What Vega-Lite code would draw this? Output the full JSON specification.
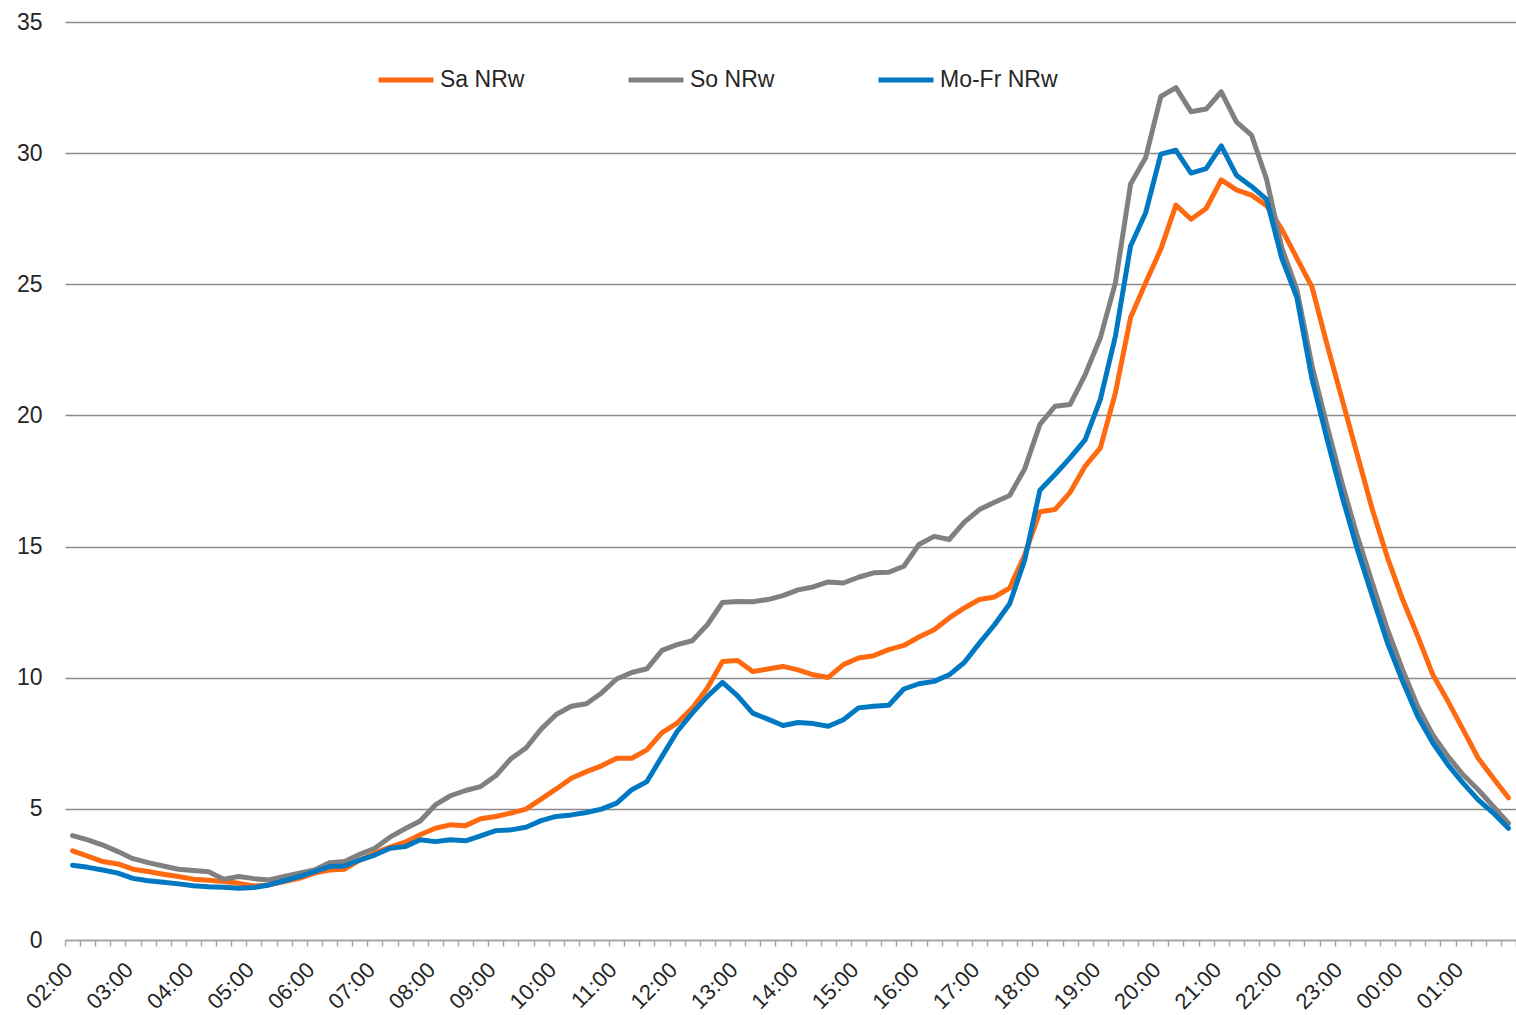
{
  "$schema": "https://vega.github.io/schema/vega-lite/v6.json",
  "width": 1451,
  "height": 918,
  "autosize": {"type": "none"},
  "padding": {"left": 65, "top": 22, "right": 0, "bottom": 75},
  "background": "white",
  "config": {
    "view": {"stroke": null},
    "font": "Liberation Sans, Arial, sans-serif"
  },
  "data": {"values": [
    {"t":"02:00","Sa NRw":3.40,"So NRw":3.98,"Mo-Fr NRw":2.85},
    {"t":"02:15","Sa NRw":3.20,"So NRw":3.82,"Mo-Fr NRw":2.77},
    {"t":"02:30","Sa NRw":2.99,"So NRw":3.62,"Mo-Fr NRw":2.67},
    {"t":"02:45","Sa NRw":2.90,"So NRw":3.37,"Mo-Fr NRw":2.55},
    {"t":"03:00","Sa NRw":2.70,"So NRw":3.10,"Mo-Fr NRw":2.35},
    {"t":"03:15","Sa NRw":2.61,"So NRw":2.95,"Mo-Fr NRw":2.26},
    {"t":"03:30","Sa NRw":2.51,"So NRw":2.82,"Mo-Fr NRw":2.20},
    {"t":"03:45","Sa NRw":2.42,"So NRw":2.70,"Mo-Fr NRw":2.14},
    {"t":"04:00","Sa NRw":2.32,"So NRw":2.65,"Mo-Fr NRw":2.07},
    {"t":"04:15","Sa NRw":2.28,"So NRw":2.60,"Mo-Fr NRw":2.03},
    {"t":"04:30","Sa NRw":2.23,"So NRw":2.32,"Mo-Fr NRw":2.01},
    {"t":"04:45","Sa NRw":2.16,"So NRw":2.42,"Mo-Fr NRw":1.97},
    {"t":"05:00","Sa NRw":2.06,"So NRw":2.34,"Mo-Fr NRw":2.00},
    {"t":"05:15","Sa NRw":2.10,"So NRw":2.29,"Mo-Fr NRw":2.10},
    {"t":"05:30","Sa NRw":2.23,"So NRw":2.42,"Mo-Fr NRw":2.26},
    {"t":"05:45","Sa NRw":2.35,"So NRw":2.55,"Mo-Fr NRw":2.42},
    {"t":"06:00","Sa NRw":2.55,"So NRw":2.67,"Mo-Fr NRw":2.61},
    {"t":"06:15","Sa NRw":2.67,"So NRw":2.95,"Mo-Fr NRw":2.80},
    {"t":"06:30","Sa NRw":2.70,"So NRw":2.99,"Mo-Fr NRw":2.82},
    {"t":"06:45","Sa NRw":3.05,"So NRw":3.27,"Mo-Fr NRw":3.05},
    {"t":"07:00","Sa NRw":3.31,"So NRw":3.50,"Mo-Fr NRw":3.24},
    {"t":"07:15","Sa NRw":3.54,"So NRw":3.92,"Mo-Fr NRw":3.50},
    {"t":"07:30","Sa NRw":3.73,"So NRw":4.24,"Mo-Fr NRw":3.56},
    {"t":"07:45","Sa NRw":4.01,"So NRw":4.54,"Mo-Fr NRw":3.82},
    {"t":"08:00","Sa NRw":4.26,"So NRw":5.15,"Mo-Fr NRw":3.75},
    {"t":"08:15","Sa NRw":4.39,"So NRw":5.50,"Mo-Fr NRw":3.82},
    {"t":"08:30","Sa NRw":4.36,"So NRw":5.70,"Mo-Fr NRw":3.78},
    {"t":"08:45","Sa NRw":4.62,"So NRw":5.85,"Mo-Fr NRw":3.97},
    {"t":"09:00","Sa NRw":4.71,"So NRw":6.26,"Mo-Fr NRw":4.17},
    {"t":"09:15","Sa NRw":4.84,"So NRw":6.91,"Mo-Fr NRw":4.20},
    {"t":"09:30","Sa NRw":4.99,"So NRw":7.32,"Mo-Fr NRw":4.30},
    {"t":"09:45","Sa NRw":5.37,"So NRw":8.04,"Mo-Fr NRw":4.55},
    {"t":"10:00","Sa NRw":5.76,"So NRw":8.60,"Mo-Fr NRw":4.71},
    {"t":"10:15","Sa NRw":6.17,"So NRw":8.91,"Mo-Fr NRw":4.77},
    {"t":"10:30","Sa NRw":6.42,"So NRw":9.01,"Mo-Fr NRw":4.86},
    {"t":"10:45","Sa NRw":6.64,"So NRw":9.42,"Mo-Fr NRw":4.99},
    {"t":"11:00","Sa NRw":6.93,"So NRw":9.95,"Mo-Fr NRw":5.22},
    {"t":"11:15","Sa NRw":6.93,"So NRw":10.20,"Mo-Fr NRw":5.73},
    {"t":"11:30","Sa NRw":7.25,"So NRw":10.34,"Mo-Fr NRw":6.04},
    {"t":"11:45","Sa NRw":7.91,"So NRw":11.04,"Mo-Fr NRw":7.00},
    {"t":"12:00","Sa NRw":8.27,"So NRw":11.26,"Mo-Fr NRw":7.95},
    {"t":"12:15","Sa NRw":8.84,"So NRw":11.41,"Mo-Fr NRw":8.65},
    {"t":"12:30","Sa NRw":9.61,"So NRw":12.02,"Mo-Fr NRw":9.29},
    {"t":"12:45","Sa NRw":10.62,"So NRw":12.87,"Mo-Fr NRw":9.82},
    {"t":"13:00","Sa NRw":10.66,"So NRw":12.91,"Mo-Fr NRw":9.31},
    {"t":"13:15","Sa NRw":10.24,"So NRw":12.90,"Mo-Fr NRw":8.65},
    {"t":"13:30","Sa NRw":10.33,"So NRw":12.98,"Mo-Fr NRw":8.42},
    {"t":"13:45","Sa NRw":10.43,"So NRw":13.13,"Mo-Fr NRw":8.18},
    {"t":"14:00","Sa NRw":10.30,"So NRw":13.35,"Mo-Fr NRw":8.29},
    {"t":"14:15","Sa NRw":10.11,"So NRw":13.46,"Mo-Fr NRw":8.25},
    {"t":"14:30","Sa NRw":10.01,"So NRw":13.65,"Mo-Fr NRw":8.15},
    {"t":"14:45","Sa NRw":10.50,"So NRw":13.61,"Mo-Fr NRw":8.40},
    {"t":"15:00","Sa NRw":10.75,"So NRw":13.83,"Mo-Fr NRw":8.85},
    {"t":"15:15","Sa NRw":10.84,"So NRw":14.00,"Mo-Fr NRw":8.91},
    {"t":"15:30","Sa NRw":11.07,"So NRw":14.02,"Mo-Fr NRw":8.95},
    {"t":"15:45","Sa NRw":11.23,"So NRw":14.25,"Mo-Fr NRw":9.57},
    {"t":"16:00","Sa NRw":11.55,"So NRw":15.08,"Mo-Fr NRw":9.77},
    {"t":"16:15","Sa NRw":11.83,"So NRw":15.39,"Mo-Fr NRw":9.86},
    {"t":"16:30","Sa NRw":12.28,"So NRw":15.27,"Mo-Fr NRw":10.11},
    {"t":"16:45","Sa NRw":12.66,"So NRw":15.93,"Mo-Fr NRw":10.58},
    {"t":"17:00","Sa NRw":12.98,"So NRw":16.41,"Mo-Fr NRw":11.32},
    {"t":"17:15","Sa NRw":13.08,"So NRw":16.69,"Mo-Fr NRw":12.02},
    {"t":"17:30","Sa NRw":13.42,"So NRw":16.95,"Mo-Fr NRw":12.82},
    {"t":"17:45","Sa NRw":14.69,"So NRw":17.97,"Mo-Fr NRw":14.50},
    {"t":"18:00","Sa NRw":16.33,"So NRw":19.66,"Mo-Fr NRw":17.15},
    {"t":"18:15","Sa NRw":16.41,"So NRw":20.35,"Mo-Fr NRw":17.75},
    {"t":"18:30","Sa NRw":17.07,"So NRw":20.42,"Mo-Fr NRw":18.38},
    {"t":"18:45","Sa NRw":18.07,"So NRw":21.56,"Mo-Fr NRw":19.08},
    {"t":"19:00","Sa NRw":18.76,"So NRw":22.96,"Mo-Fr NRw":20.61},
    {"t":"19:15","Sa NRw":20.87,"So NRw":25.06,"Mo-Fr NRw":23.03},
    {"t":"19:30","Sa NRw":23.73,"So NRw":28.82,"Mo-Fr NRw":26.46},
    {"t":"19:45","Sa NRw":25.06,"So NRw":29.83,"Mo-Fr NRw":27.73},
    {"t":"20:00","Sa NRw":26.34,"So NRw":32.16,"Mo-Fr NRw":29.96},
    {"t":"20:15","Sa NRw":28.02,"So NRw":32.50,"Mo-Fr NRw":30.11},
    {"t":"20:30","Sa NRw":27.48,"So NRw":31.58,"Mo-Fr NRw":29.24},
    {"t":"20:45","Sa NRw":27.89,"So NRw":31.68,"Mo-Fr NRw":29.41},
    {"t":"21:00","Sa NRw":28.98,"So NRw":32.34,"Mo-Fr NRw":30.28},
    {"t":"21:15","Sa NRw":28.60,"So NRw":31.19,"Mo-Fr NRw":29.16},
    {"t":"21:30","Sa NRw":28.40,"So NRw":30.69,"Mo-Fr NRw":28.73},
    {"t":"21:45","Sa NRw":28.00,"So NRw":29.00,"Mo-Fr NRw":28.24},
    {"t":"22:00","Sa NRw":27.10,"So NRw":26.40,"Mo-Fr NRw":26.00},
    {"t":"22:15","Sa NRw":26.00,"So NRw":24.80,"Mo-Fr NRw":24.50},
    {"t":"22:30","Sa NRw":24.90,"So NRw":21.90,"Mo-Fr NRw":21.40},
    {"t":"22:45","Sa NRw":22.70,"So NRw":19.60,"Mo-Fr NRw":19.10},
    {"t":"23:00","Sa NRw":20.60,"So NRw":17.40,"Mo-Fr NRw":16.90},
    {"t":"23:15","Sa NRw":18.50,"So NRw":15.40,"Mo-Fr NRw":14.90},
    {"t":"23:30","Sa NRw":16.40,"So NRw":13.60,"Mo-Fr NRw":13.10},
    {"t":"23:45","Sa NRw":14.57,"So NRw":11.83,"Mo-Fr NRw":11.32},
    {"t":"00:00","Sa NRw":12.98,"So NRw":10.30,"Mo-Fr NRw":9.86},
    {"t":"00:15","Sa NRw":11.58,"So NRw":8.90,"Mo-Fr NRw":8.52},
    {"t":"00:30","Sa NRw":10.11,"So NRw":7.82,"Mo-Fr NRw":7.51},
    {"t":"00:45","Sa NRw":9.10,"So NRw":7.00,"Mo-Fr NRw":6.68},
    {"t":"01:00","Sa NRw":8.02,"So NRw":6.30,"Mo-Fr NRw":5.98},
    {"t":"01:15","Sa NRw":6.93,"So NRw":5.73,"Mo-Fr NRw":5.34},
    {"t":"01:30","Sa NRw":6.17,"So NRw":5.09,"Mo-Fr NRw":4.84},
    {"t":"01:45","Sa NRw":5.42,"So NRw":4.45,"Mo-Fr NRw":4.26}
  ]},
  "transform": [
    {"fold": ["Sa NRw", "So NRw", "Mo-Fr NRw"], "as": ["series", "v"]}
  ],
  "encoding": {
    "x": {
      "field": "t",
      "type": "ordinal",
      "sort": null,
      "scale": {"type": "band", "paddingInner": 0, "paddingOuter": 0},
      "axis": {
        "title": null,
        "tickBand": "extent",
        "labelAngle": -45,
        "labelAlign": "right",
        "labelBaseline": "middle",
        "labelPadding": 20,
        "labelOffset": -4,
        "labelOverlap": false,
        "labelExpr": "substring(datum.value, 3) == '00' ? datum.value : ''",
        "labelFontSize": 22,
        "labelColor": "#262626",
        "domainColor": "#a6a6a6",
        "domainWidth": 1.5,
        "tickColor": "#a6a6a6",
        "tickWidth": 1.5,
        "tickSize": 6,
        "grid": false
      }
    },
    "y": {
      "field": "v",
      "type": "quantitative",
      "scale": {"domain": [0, 35], "nice": false},
      "axis": {
        "title": null,
        "values": [0, 5, 10, 15, 20, 25, 30, 35],
        "domain": false,
        "ticks": false,
        "grid": true,
        "gridColor": "#8a8a8a",
        "gridWidth": 1.5,
        "labelFontSize": 23,
        "labelColor": "#262626",
        "labelPadding": 23
      }
    },
    "color": {
      "field": "series",
      "type": "nominal",
      "scale": {
        "domain": ["Sa NRw", "So NRw", "Mo-Fr NRw"],
        "range": ["#ff6a10", "#808080", "#0079c2"]
      },
      "legend": {
        "title": null,
        "orient": "none",
        "legendX": 311,
        "legendY": 28,
        "direction": "horizontal",
        "columns": 3,
        "gridAlign": "all",
        "columnPadding": 60,
        "padding": 0,
        "symbolType": "stroke",
        "symbolSize": 3025,
        "symbolStrokeWidth": 5,
        "labelFontSize": 23,
        "labelColor": "#262626",
        "labelOffset": 4
      }
    }
  },
  "layer": [
    {
      "transform": [{"filter": "datum.series == 'Sa NRw'"}],
      "mark": {"type": "line", "strokeWidth": 5, "strokeCap": "round", "strokeJoin": "round"}
    },
    {
      "transform": [{"filter": "datum.series == 'So NRw'"}],
      "mark": {"type": "line", "strokeWidth": 5, "strokeCap": "round", "strokeJoin": "round"}
    },
    {
      "transform": [{"filter": "datum.series == 'Mo-Fr NRw'"}],
      "mark": {"type": "line", "strokeWidth": 5, "strokeCap": "round", "strokeJoin": "round"}
    }
  ]
}
